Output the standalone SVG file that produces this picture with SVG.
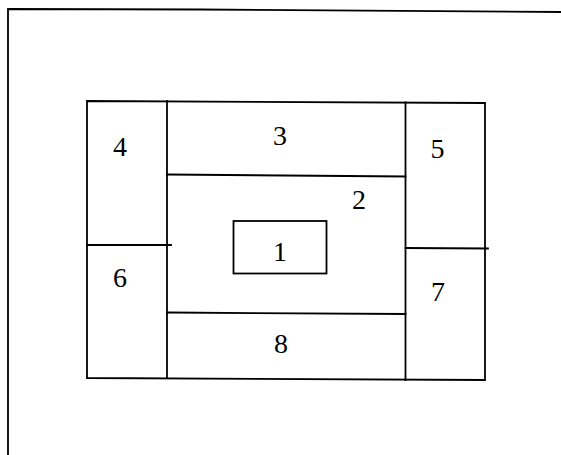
<svg xmlns="http://www.w3.org/2000/svg" width="561" height="455" viewBox="0 0 561 455">
<style>
.ln{stroke:#000;stroke-width:1.8;fill:none;stroke-linecap:square}
.lb{font-family:"Liberation Serif","Times New Roman",serif;font-size:28px;fill:#000;text-anchor:middle}
</style>
<rect width="561" height="455" fill="#fff"/>
<g id="frame">
<polyline class="ln" points="8,455 8,9 200,9.5 561,12"/>
</g>
<g id="connectors">
<polygon class="ln" points="87,101 485,103 485,380 87,378"/>
<line class="ln" x1="167" y1="101" x2="167" y2="378"/>
<line class="ln" x1="405.5" y1="102.5" x2="405.5" y2="380"/>
<line class="ln" x1="167" y1="174.5" x2="405.5" y2="176.5"/>
<line class="ln" x1="167" y1="312.5" x2="405.5" y2="314"/>
<line class="ln" x1="87" y1="245" x2="171" y2="245"/>
<line class="ln" x1="405.5" y1="248" x2="488" y2="248.5"/>
</g>
<g id="node1"><rect class="ln" x="233.5" y="221" width="93" height="52.5"/><text class="lb" x="280" y="261">1</text></g>
<g id="node2"><text class="lb" x="359" y="209">2</text></g>
<g id="node3"><text class="lb" x="280" y="145">3</text></g>
<g id="node4"><text class="lb" x="120" y="155.5">4</text></g>
<g id="node5"><text class="lb" x="437.5" y="158">5</text></g>
<g id="node6"><text class="lb" x="120" y="286.5">6</text></g>
<g id="node7"><text class="lb" x="438" y="301">7</text></g>
<g id="node8"><text class="lb" x="281" y="353">8</text></g>
</svg>
